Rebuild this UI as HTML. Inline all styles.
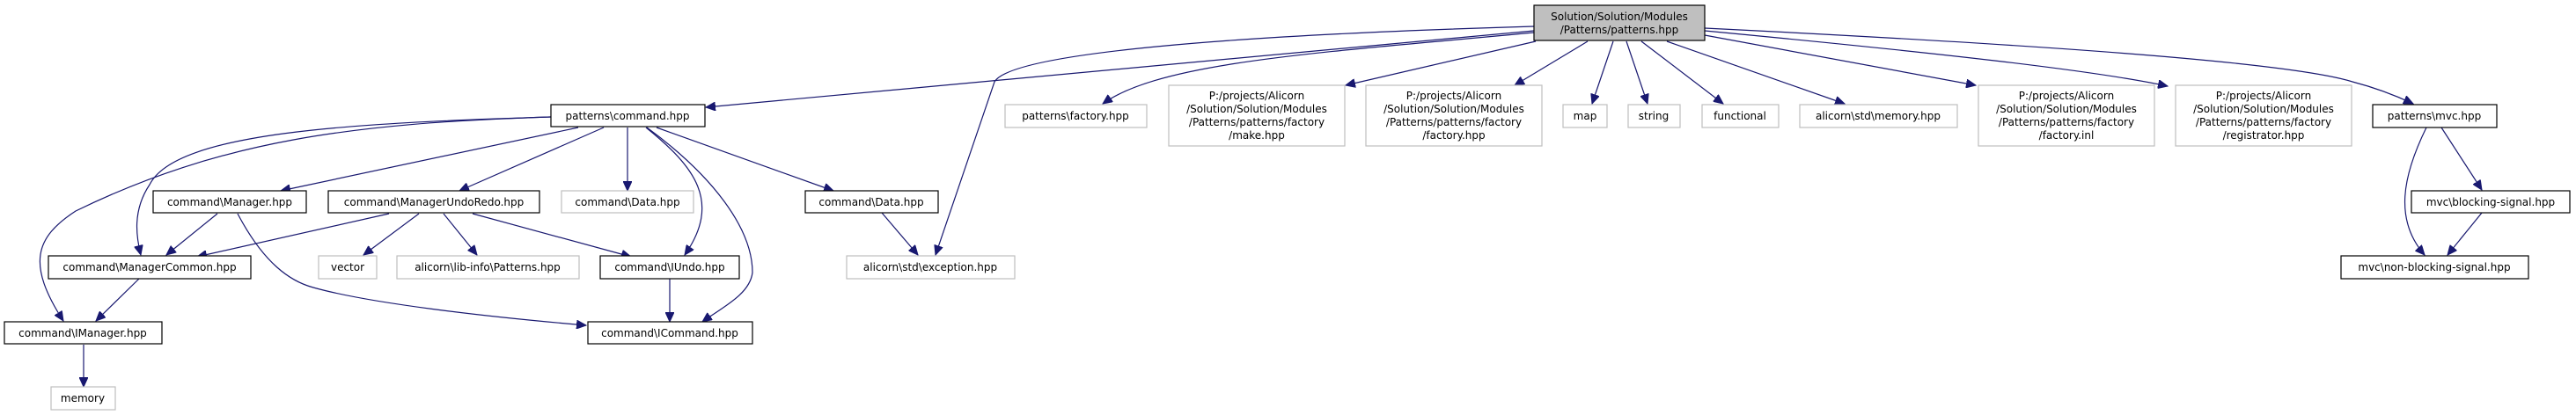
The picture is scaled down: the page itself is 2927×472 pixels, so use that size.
<!DOCTYPE html>
<html><head><meta charset="utf-8"><style>
html,body{margin:0;padding:0;background:#fff;}
svg{display:block;}
text{font-family:"DejaVu Sans","Liberation Sans",sans-serif;font-size:12px;fill:#000;text-anchor:middle;}
.b{fill:#fff;stroke:#000;stroke-width:1.2;}
.g{fill:#fff;stroke:#bfbfbf;stroke-width:1.2;}
.r{fill:#bfbfbf;stroke:#000;stroke-width:1.2;}
.e{fill:none;stroke:#191970;stroke-width:1.2;marker-end:url(#a);}
</style></head><body>
<svg width="2927" height="472" viewBox="0 0 2927 472" xmlns="http://www.w3.org/2000/svg">
<defs><marker id="a" markerWidth="12" markerHeight="10" refX="11" refY="5" orient="auto" markerUnits="userSpaceOnUse"><path d="M0,0 L11,5 L0,10 z" fill="#191970" stroke="#191970"/></marker></defs>
<!-- edges -->
<path class="e" d="M1743,35 L802,122"/>
<path class="e" d="M1743,30 C1400,40 1150,60 1130,93 L1063,290"/>
<path class="e" d="M1743,37 C1500,60 1320,70 1253,118"/>
<path class="e" d="M1745,47 L1529,97"/>
<path class="e" d="M1804,47 L1721,97"/>
<path class="e" d="M1833,47 L1809,118"/>
<path class="e" d="M1848,47 L1872,118"/>
<path class="e" d="M1865,47 L1958,118"/>
<path class="e" d="M1894,47 L2096,118"/>
<path class="e" d="M1937,40 L2245,97"/>
<path class="e" d="M1937,35 C2200,60 2380,80 2463,98"/>
<path class="e" d="M1937,32 C2300,50 2600,70 2673,93 C2700,100 2725,110 2742,118"/>
<path class="e" d="M626,133 C400,140 200,150 170,210 C150,240 155,270 160,290"/>
<path class="e" d="M626,133 C400,140 250,160 86,240 C40,270 30,300 72,365"/>
<path class="e" d="M657,145 L319,217"/>
<path class="e" d="M686,145 L522,217"/>
<path class="e" d="M713,145 L713,217"/>
<path class="e" d="M734,145 C790,190 820,230 778,290"/>
<path class="e" d="M735,145 C810,200 855,260 855,310 C852,335 820,350 798,366"/>
<path class="e" d="M746,145 L947,217"/>
<path class="e" d="M247,243 L189,290"/>
<path class="e" d="M270,243 C300,300 330,320 356,327 C420,345 550,360 666,370"/>
<path class="e" d="M442,243 L224,292"/>
<path class="e" d="M476,243 L413,290"/>
<path class="e" d="M504,243 L542,290"/>
<path class="e" d="M537,243 L717,292"/>
<path class="e" d="M158,317 L109,365"/>
<path class="e" d="M95,392 L95,440"/>
<path class="e" d="M761,317 L761,366"/>
<path class="e" d="M1002,242 L1043,290"/>
<path class="e" d="M2774,145 L2820,216"/>
<path class="e" d="M2757,145 C2730,200 2720,250 2755,290"/>
<path class="e" d="M2820,242 L2781,290"/>
<!-- nodes -->
<rect class="r" x="1743" y="6" width="194" height="40"/>
<text x="1840" y="23">Solution/Solution/Modules</text><text x="1840" y="38">/Patterns/patterns.hpp</text>
<rect class="b" x="626" y="119" width="175" height="25"/><text x="713" y="136">patterns\command.hpp</text>
<rect class="g" x="1142" y="119" width="161" height="26"/><text x="1222" y="136">patterns\factory.hpp</text>
<rect class="g" x="1328" y="97" width="200" height="69"/>
<text x="1428" y="113">P:/projects/Alicorn</text><text x="1428" y="128">/Solution/Solution/Modules</text><text x="1428" y="143">/Patterns/patterns/factory</text><text x="1428" y="158">/make.hpp</text>
<rect class="g" x="1552" y="97" width="200" height="69"/>
<text x="1652" y="113">P:/projects/Alicorn</text><text x="1652" y="128">/Solution/Solution/Modules</text><text x="1652" y="143">/Patterns/patterns/factory</text><text x="1652" y="158">/factory.hpp</text>
<rect class="g" x="1776" y="119" width="50" height="26"/><text x="1801" y="136">map</text>
<rect class="g" x="1850" y="119" width="59" height="26"/><text x="1879" y="136">string</text>
<rect class="g" x="1934" y="119" width="87" height="26"/><text x="1977" y="136">functional</text>
<rect class="g" x="2045" y="119" width="179" height="26"/><text x="2134" y="136">alicorn\std\memory.hpp</text>
<rect class="g" x="2248" y="97" width="200" height="69"/>
<text x="2348" y="113">P:/projects/Alicorn</text><text x="2348" y="128">/Solution/Solution/Modules</text><text x="2348" y="143">/Patterns/patterns/factory</text><text x="2348" y="158">/factory.inl</text>
<rect class="g" x="2472" y="97" width="200" height="69"/>
<text x="2572" y="113">P:/projects/Alicorn</text><text x="2572" y="128">/Solution/Solution/Modules</text><text x="2572" y="143">/Patterns/patterns/factory</text><text x="2572" y="158">/registrator.hpp</text>
<rect class="b" x="2696" y="119" width="141" height="26"/><text x="2766" y="136">patterns\mvc.hpp</text>
<rect class="b" x="174" y="217" width="174" height="25"/><text x="261" y="234">command\Manager.hpp</text>
<rect class="b" x="373" y="217" width="240" height="25"/><text x="493" y="234">command\ManagerUndoRedo.hpp</text>
<rect class="g" x="638" y="217" width="150" height="25"/><text x="713" y="234">command\Data.hpp</text>
<rect class="b" x="915" y="217" width="151" height="25"/><text x="990" y="234">command\Data.hpp</text>
<rect class="b" x="2740" y="217" width="180" height="25"/><text x="2830" y="234">mvc\blocking-signal.hpp</text>
<rect class="b" x="55" y="291" width="230" height="26"/><text x="170" y="308">command\ManagerCommon.hpp</text>
<rect class="g" x="362" y="291" width="66" height="26"/><text x="395" y="308">vector</text>
<rect class="g" x="451" y="291" width="207" height="26"/><text x="554" y="308">alicorn\lib-info\Patterns.hpp</text>
<rect class="b" x="682" y="291" width="158" height="26"/><text x="761" y="308">command\IUndo.hpp</text>
<rect class="g" x="962" y="291" width="191" height="26"/><text x="1057" y="308">alicorn\std\exception.hpp</text>
<rect class="b" x="2660" y="291" width="213" height="26"/><text x="2766" y="308">mvc\non-blocking-signal.hpp</text>
<rect class="b" x="5" y="366" width="179" height="25"/><text x="94" y="383">command\IManager.hpp</text>
<rect class="b" x="668" y="366" width="187" height="25"/><text x="761" y="383">command\ICommand.hpp</text>
<rect class="g" x="58" y="440" width="73" height="26"/><text x="94" y="457">memory</text>
</svg>
</body></html>
